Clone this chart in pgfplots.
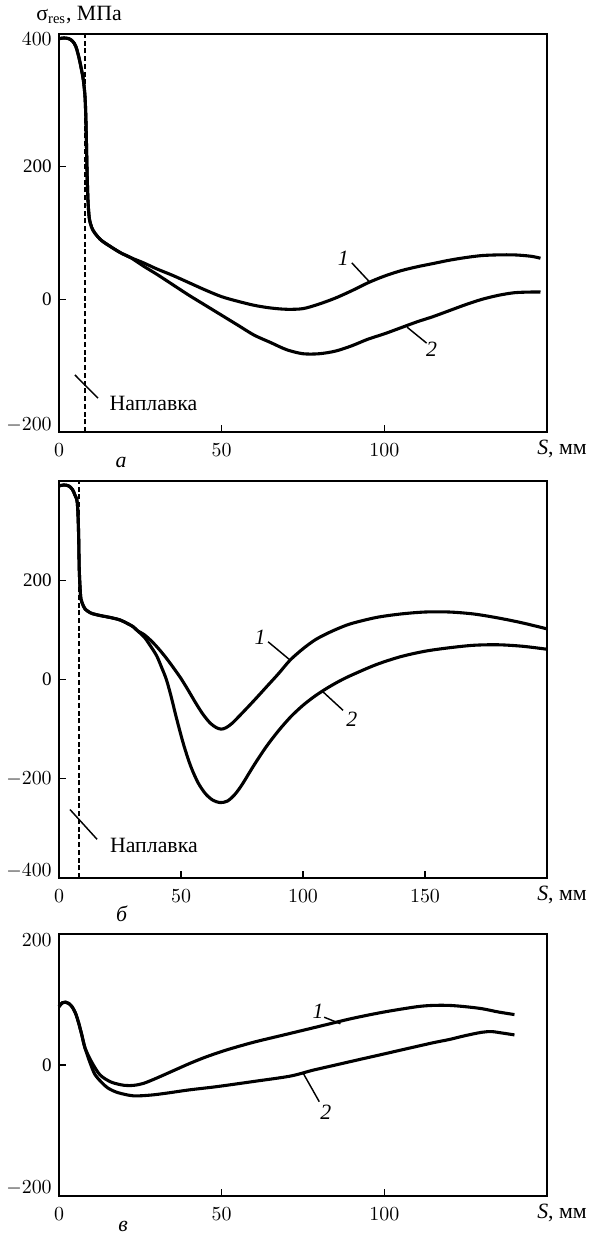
\documentclass[border=0pt]{standalone}
\usepackage{fontspec}
\setmainfont{Liberation Serif}
\usepackage{pgfplots}
\pgfplotsset{compat=1.18}

\newcommand{\tickfont}{\fontsize{10.5}{12}\selectfont}
\newcommand{\txtfont}{\fontsize{12}{14}\selectfont}

\pgfplotsset{
  panel/.style={
    scale only axis, width=268.4pt, anchor=south west,
    clip=false,
    axis line style={line width=0.9pt},
    tick align=inside, xtick pos=bottom, ytick pos=left,
    major tick length=4pt,
    every tick/.style={black, line width=0.7pt},
    xticklabel style={yshift=-2.7pt},
    yticklabel style={xshift=-0.5pt},
    every tick label/.append style={font=\tickfont},
  },
  curve/.style={black, line width=1.7pt, smooth, tension=0.5, no markers},
}
\tikzset{
  lead/.style={black, line width=0.8pt},
  weld/.style={black, line width=0.7pt, dash pattern=on 2.75pt off 1.5pt},
  ylab/.style={anchor=east, font=\tickfont, xshift=-0.5pt},
}

\begin{document}
\begin{tikzpicture}
\useasboundingbox (0,0) rectangle (325.05pt,-679.8pt);

\node[anchor=base west, font=\txtfont] at (16.5pt,-11pt) {σ\textsubscript{res}, МПа};

% --- panel a
\begin{axis}[panel, at={(32.45pt,-237.6pt)}, height=218.9pt,
  xmin=0, xmax=150, ymin=-200, ymax=400,
  xtick={0,50,100}, ytick={-200,0,200,400}, yticklabels={,0,200,}]
\addplot[weld] coordinates {(8,-200) (8,400)};
\addplot[curve] coordinates {
  (0,393) (1.5,394) (3,393) (4.2,389) (5.2,381) (6.2,363) (7,344) (7.5,330)
  (8,305) (8.3,266) (8.6,198) (8.9,150) (9.3,123) (10,109) (11,100) (13,89)
  (16,79) (19,70) (22,63) (26,55) (30,46) (35,36) (40,25) (45,14) (50,4)
  (55,-3) (60,-9) (65,-13) (70,-15) (75,-14) (80,-7) (85,2) (90,13) (95,25)
  (100,35) (105,43) (110,49) (115,54) (120,59) (125,63) (130,66) (135,67)
  (140,67) (145,65) (148,62)};
\addplot[curve] coordinates {
  (0,393) (1.5,394) (3,393) (4.2,389) (5.2,381) (6.2,363) (7,344) (7.5,330)
  (8,305) (8.3,266) (8.6,198) (8.9,150) (9.3,123) (10,109) (11,100) (13,89)
  (16,79) (19,70) (22,63) (26,50) (30,38) (35,22) (40,6) (45,-9) (50,-24)
  (55,-39) (60,-54) (65,-65) (70,-76) (75,-82) (80,-82) (85,-78) (90,-70)
  (95,-60) (100,-52) (105,-43) (110,-34) (115,-26) (120,-17) (125,-8)
  (130,0) (135,6) (140,10) (145,11) (148,11)};
\draw[lead] (axis cs:90,55) -- (axis cs:95.5,26);
\node[font=\txtfont\itshape] at (axis cs:87.4,62) {1};
\draw[lead] (axis cs:107,-42) -- (axis cs:113,-66);
\node[font=\txtfont\itshape] at (axis cs:114.5,-76) {2};
\draw[lead] (axis cs:4.9,-114) -- (axis cs:12,-149);
\node[anchor=west, font=\txtfont] at (axis cs:13.6,-157) {Наплавка};
\node[ylab] at (rel axis cs:0,0) [yshift=3.85pt] {$-200$};
\node[ylab] at (rel axis cs:0,1) [yshift=-2.75pt] {$400$};
\node[font=\txtfont] at (rel axis cs:1,0) [xshift=8.25pt, yshift=-9.3pt] {\textit{S}, мм};
\node[font=\txtfont] at (rel axis cs:0,0) [xshift=34.1pt, yshift=-16.5pt] {\textit{а}};
\end{axis}

% --- panel b
\begin{axis}[panel, at={(32.45pt,-482.9pt)}, height=218.35pt,
  xmin=0, xmax=200, ymin=-400, ymax=400,
  xtick={0,50,100,150}, ytick={-400,-200,0,200}, yticklabels={,$-200$,0,200}]
\addplot[weld] coordinates {(8.2,-400) (8.2,400)};
\addplot[curve] coordinates {
  (0,390) (2,392) (4,390) (5.5,383) (6.5,372) (7.5,356) (8,300) (8.3,222)
  (8.7,180) (9,162) (10,148) (10.7,142) (13,134) (16.8,129) (21,125)
  (25,120) (28,113) (30.5,106) (32,99) (35,90) (38,77) (41,61) (44,43)
  (47,23) (50,2) (53,-22) (56,-47) (59,-70) (62,-88) (64.5,-97) (66.5,-100)
  (68.5,-97) (71,-88) (75,-68) (80,-42) (85,-15) (90,12) (94.7,39) (100,62)
  (105,80) (110,93) (115,104) (120,113) (130,125) (140,132) (150,136)
  (160,136) (170,132) (180,124) (190,114) (200,102)};
\addplot[curve] coordinates {
  (0,390) (2,392) (4,390) (5.5,383) (6.5,372) (7.5,356) (8,300) (8.3,222)
  (8.7,180) (9,162) (10,148) (10.7,142) (13,134) (16.8,129) (21,125)
  (25,120) (28,113) (30.5,106) (32,99) (35,85) (37.3,69) (40,48) (42,25)
  (44,0) (46,-35) (48,-75) (51,-130) (54,-175) (57,-208) (60,-230) (63,-243)
  (66,-248) (69,-245) (72,-232) (75,-212) (80,-172) (85,-135) (90,-103)
  (95,-75) (100,-52) (105,-33) (110,-17) (115,-3) (120,9) (130,30) (140,46)
  (150,57) (160,64) (170,69) (180,70) (190,67) (200,61)};
\draw[lead] (axis cs:85.7,76) -- (axis cs:94.5,40);
\node[font=\txtfont\itshape] at (axis cs:82.4,86) {1};
\draw[lead] (axis cs:108,-24) -- (axis cs:116.4,-62);
\node[font=\txtfont\itshape] at (axis cs:120,-80) {2};
\draw[lead] (axis cs:4.5,-262) -- (axis cs:15.6,-322);
\node[anchor=west, font=\txtfont] at (axis cs:18.3,-334) {Наплавка};
\node[ylab] at (rel axis cs:0,0) [yshift=3.85pt] {$-400$};
\node[font=\txtfont] at (rel axis cs:1,0) [xshift=8.25pt, yshift=-9.3pt] {\textit{S}, мм};
\node[font=\txtfont] at (rel axis cs:0,0) [xshift=34.6pt, yshift=-19.8pt] {\textit{б}};
\end{axis}

% --- panel c
\begin{axis}[panel, at={(32.45pt,-657.8pt)}, height=144.1pt,
  xmin=0, xmax=150, ymin=-200, ymax=200,
  xtick={0,50,100}, ytick={-200,0,200}, yticklabels={,0,}]
\addplot[curve] coordinates {
  (0,89) (1,95) (2,96) (3,94) (4,89) (5,80) (6,65) (7,46) (8,26) (10,5)
  (12.6,-15) (16,-26) (20,-31) (23,-31) (26,-28) (30,-20) (35,-9) (40,2)
  (45,12) (51.5,23) (60,35) (70,47) (80,59) (90,71) (100,81) (110,89)
  (115,91) (120,91) (125,89) (130,86) (135,81) (140,77)};
\addplot[curve] coordinates {
  (0,89) (1,95) (2,96) (3,94) (4,89) (5,80) (6,65) (7,46) (8,26) (9.5,4)
  (11,-14) (13,-26) (15,-35) (18,-42) (22.8,-47) (28,-46) (33,-43) (40,-38)
  (48.5,-33) (60,-25) (71,-17) (78,-8) (85,0) (92,8) (100,17) (107,25)
  (115,34) (120,39) (125,45) (130,50) (133,51) (136,49) (140,46)};
\draw[lead] (axis cs:81.5,73) -- (axis cs:86.5,63);
\node[font=\txtfont\itshape] at (axis cs:79.6,82) {1};
\draw[lead] (axis cs:75,-12) -- (axis cs:80,-56);
\node[font=\txtfont\itshape] at (axis cs:82,-72) {2};
\node[ylab] at (rel axis cs:0,0) [yshift=4.5pt] {$-200$};
\node[ylab] at (rel axis cs:0,1) [yshift=-3.3pt] {$200$};
\node[font=\txtfont] at (rel axis cs:1,0) [xshift=8.25pt, yshift=-9.3pt] {\textit{S}, мм};
\node[font=\txtfont] at (rel axis cs:0,0) [xshift=35.2pt, yshift=-16.5pt] {\textit{в}};
\end{axis}
\end{tikzpicture}
\end{document}
